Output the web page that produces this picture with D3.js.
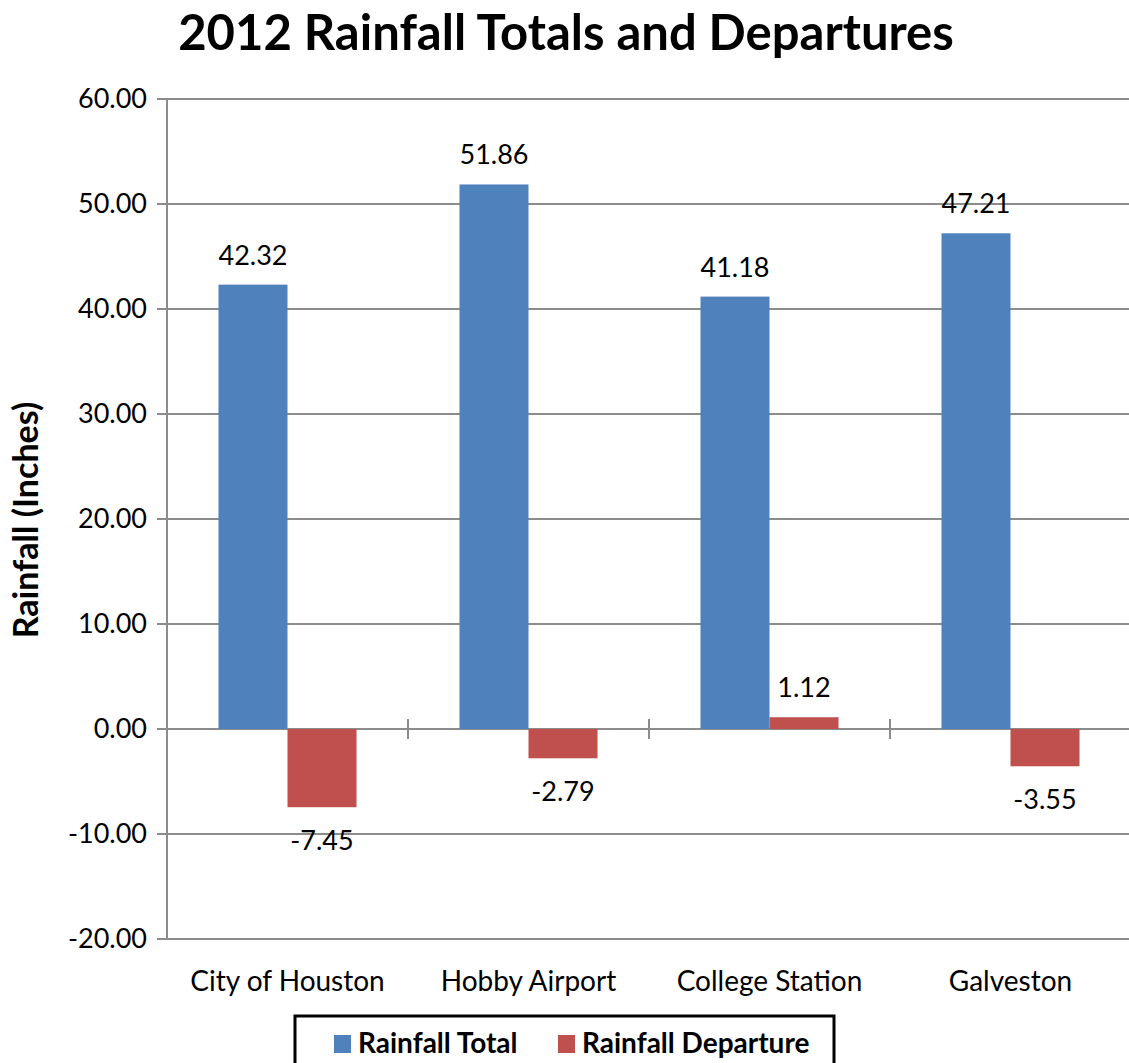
<!DOCTYPE html>
<html><head><meta charset="utf-8">
<script src="https://cdn.jsdelivr.net/npm/d3@7"></script>
<style>body{margin:0;background:#fff}svg{display:block}</style>
</head><body>
<svg id="c" width="1129" height="1063"></svg>
<script>
const categories = ["City of Houston", "Hobby Airport", "College Station", "Galveston"];
const seriesNames = ["Rainfall Total", "Rainfall Departure"];
const rainfallTotal = [42.32, 51.86, 41.18, 47.21];
const rainfallDeparture = [-7.45, -2.79, 1.12, -3.55];
const yTicks = [-20, -10, 0, 10, 20, 30, 40, 50, 60];
const colors = ["#4F81BD", "#C0504D"];

(function () {
const font = "Lato, 'Open Sans', sans-serif";
const svg = d3.select("#c");
const pl = 167, pr = 1131, pt = 99, pb = 939;

const x = d3.scaleBand().domain(categories).range([pl, pr]).paddingInner(0).paddingOuter(0);
const xs = d3.scaleBand().domain(seriesNames).range([0, x.bandwidth()]).paddingInner(0).paddingOuter(0.746);
const y = d3.scaleLinear().domain([-20, 60]).range([pb, pt]);

svg.append("g").selectAll("line").data(yTicks).join("line")
  .attr("x1", pl - 10).attr("x2", pr)
  .attr("y1", d => y(d)).attr("y2", d => y(d))
  .attr("stroke", "#8c8c8c").attr("stroke-width", 2);

svg.append("line").attr("x1", pl).attr("x2", pl).attr("y1", pt).attr("y2", pb)
  .attr("stroke", "#8c8c8c").attr("stroke-width", 2);

svg.append("g").selectAll("text").data(yTicks).join("text")
  .attr("x", pl - 20).attr("y", d => y(d)).attr("dy", "0.35em")
  .attr("text-anchor", "end").attr("font-family", font).attr("font-size", 27)
  .text(d => d.toFixed(2));

svg.append("g").selectAll("line").data(categories.slice(1)).join("line")
  .attr("x1", d => x(d)).attr("x2", d => x(d))
  .attr("y1", y(0) - 10).attr("y2", y(0) + 10)
  .attr("stroke", "#8c8c8c").attr("stroke-width", 2);

const series = [rainfallTotal, rainfallDeparture];
series.forEach((vals, si) => {
  const g = svg.append("g");
  g.selectAll("rect").data(vals).join("rect")
    .attr("x", (d, i) => x(categories[i]) + xs(seriesNames[si]))
    .attr("width", xs.bandwidth())
    .attr("y", d => y(Math.max(0, d)))
    .attr("height", d => Math.abs(y(d) - y(0)))
    .attr("fill", colors[si]);
  g.selectAll("text").data(vals).join("text")
    .attr("x", (d, i) => x(categories[i]) + xs(seriesNames[si]) + xs.bandwidth() / 2)
    .attr("y", d => d >= 0 ? y(d) - 20 : y(d) + 43)
    .attr("text-anchor", "middle").attr("font-family", font).attr("font-size", 27)
    .text(d => d.toFixed(2));
});

svg.append("g").selectAll("text").data(categories).join("text")
  .attr("x", d => x(d) + x.bandwidth() / 2).attr("y", 991)
  .attr("text-anchor", "middle").attr("font-family", font).attr("font-size", 28)
  .text(d => d);

svg.append("text").attr("x", 566).attr("y", 50).attr("text-anchor", "middle")
  .attr("font-family", font).attr("font-weight", "bold").attr("font-size", 49)
  .text("2012 Rainfall Totals and Departures");

svg.append("text").attr("transform", "translate(38,520) rotate(-90)")
  .attr("text-anchor", "middle").attr("font-family", font).attr("font-weight", "bold").attr("font-size", 34)
  .text("Rainfall (Inches)");

const lg = svg.append("g");
lg.append("rect").attr("x", 295).attr("y", 1016).attr("width", 539).attr("height", 60)
  .attr("fill", "#fff").attr("stroke", "#000").attr("stroke-width", 3);
const legX = [334, 558];
seriesNames.forEach((n, i) => {
  lg.append("rect").attr("x", legX[i]).attr("y", 1035).attr("width", 17).attr("height", 18).attr("fill", colors[i]);
  lg.append("text").attr("x", legX[i] + 24).attr("y", 1053)
    .attr("font-family", font).attr("font-weight", "bold").attr("font-size", 28).text(n);
});
})();
</script>
</body></html>
